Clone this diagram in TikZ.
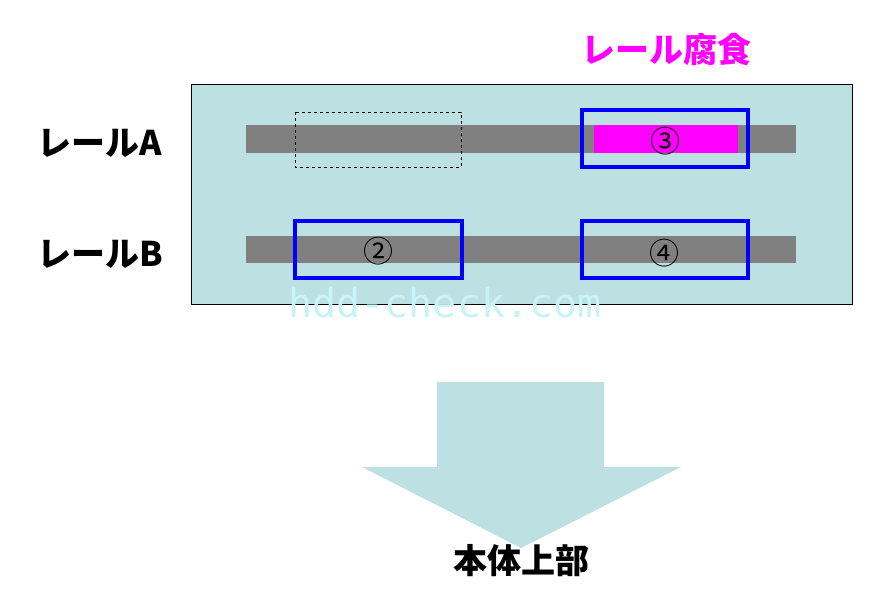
\documentclass[tikz,border=0pt]{standalone}
\usepackage{fontspec}
\newfontfamily\cjk{Noto Sans CJK JP}
\newfontfamily\wm{DejaVu Sans Mono}
\definecolor{panel}{HTML}{BDE0E3}
\definecolor{railgray}{HTML}{808080}
\definecolor{mag}{HTML}{FF00FF}
\definecolor{wmc}{HTML}{C8F4F8}
\tikzset{
  rail/.style={fill=railgray,draw=none},
  bluebox/.style={draw=blue,line width=4pt},
  lbl/.style={font=\cjk\bfseries\fontsize{34}{34}\selectfont,anchor=center},
  num/.style={font=\cjk\fontsize{30}{30}\selectfont,anchor=center}
}
\begin{document}
\begin{tikzpicture}[x=1pt,y=-1pt]
\useasboundingbox (0,0) rectangle (891,606);
\fill[white] (0,0) rectangle (891,606);
\draw[fill=panel,draw=black,line width=0.8pt] (191,84) rectangle (852,304);
\fill[rail] (246,125) rectangle (796,153);
\fill[rail] (246,236) rectangle (796,263);
\fill[mag] (594,125) rectangle (738,153);
\draw[dashed,line width=0.8pt] (295,112) rectangle (461,167);
\draw[bluebox] (582,110) rectangle (748,167);
\draw[bluebox] (295,221) rectangle (462,278);
\draw[bluebox] (582,221) rectangle (748,278);
\node[num] (n3) at (665,141) {③};
\node[num] (n2) at (378,251) {②};
\node[num] (n4) at (664,253) {④};
\node[lbl] (ra) at (100,143) {レールA};
\node[lbl] (rb) at (100,254) {レールB};
\node[lbl,text=mag] (rf) at (666,50) {レール腐食};
\node[font=\wm\fontsize{40}{40}\selectfont,text=wmc] (wm) at (445,303) {hdd-check.com};
\fill[panel] (437,382) -- (604,382) -- (604,467) -- (681,467) -- (521,548) -- (362,467) -- (437,467) -- cycle;
\node[lbl] (top) at (521,561) {本体上部};
\end{tikzpicture}
\end{document}
